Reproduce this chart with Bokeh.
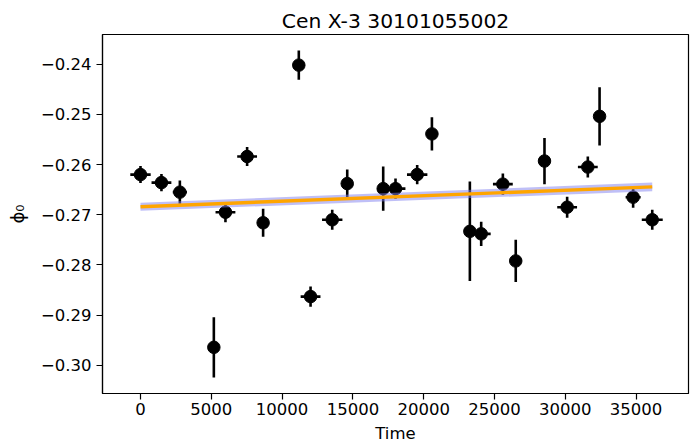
from bokeh.plotting import figure
from bokeh.models import FixedTicker, Range1d, ColumnDataSource
from bokeh.embed import file_html
from bokeh.resources import INLINE

# ---- data ----
time = [0, 1480, 2780, 5180, 6000, 7530, 8660, 11180, 12010, 13540, 14600, 17140,
        18010, 19540, 20580, 23260, 24060, 25590, 26500, 28530, 30130, 31590,
        32420, 34790, 36140]
phi0 = [-0.2620, -0.2636, -0.2655, -0.2964, -0.2695, -0.2584, -0.2716, -0.2402,
        -0.2863, -0.2710, -0.2638, -0.2648, -0.2648, -0.2620, -0.2539, -0.2733,
        -0.2738, -0.2639, -0.2792, -0.2593, -0.2685, -0.2605, -0.2504, -0.2665,
        -0.2710]
phi0_err = [0.0017, 0.0017, 0.0023, 0.0060, 0.0020, 0.0019, 0.0028, 0.0029,
            0.0020, 0.0020, 0.0028, 0.0044, 0.0020, 0.0019, 0.0033, 0.0099,
            0.0024, 0.0021, 0.0042, 0.0046, 0.0021, 0.0021, 0.0058, 0.0021,
            0.0020]
time_err = [720, 700, 500, 300, 700, 700, 300, 300, 700, 720, 300, 300,
            700, 720, 300, 300, 670, 700, 300, 300, 700, 700, 300, 530, 740]

fit_x = [0, 36140]
fit_y = [-0.2684, -0.26445]
fit_lo = [-0.2692, -0.2653]
fit_hi = [-0.2676, -0.2636]

x_ticks = [0, 5000, 10000, 15000, 20000, 25000, 30000, 35000]
y_ticks = [-0.30, -0.29, -0.28, -0.27, -0.26, -0.25, -0.24]
y_tick_labels = ["\u22120.30", "\u22120.29", "\u22120.28", "\u22120.27",
                 "\u22120.26", "\u22120.25", "\u22120.24"]

FONT = "DejaVu Sans"

src = ColumnDataSource(dict(
    x=time, y=phi0,
    x0=[t - e for t, e in zip(time, time_err)],
    x1=[t + e for t, e in zip(time, time_err)],
    y0=[v - e for v, e in zip(phi0, phi0_err)],
    y1=[v + e for v, e in zip(phi0, phi0_err)],
))

p = figure(width=697, height=447, output_backend="svg", toolbar_location=None,
           x_range=Range1d(-2683, 38700), y_range=Range1d(-0.3056, -0.2341),
           min_border_left=102, min_border_right=9, min_border_top=34,
           min_border_bottom=54)

p.title.text = "Cen X-3 30101055002"
p.title.align = "center"
p.title.vertical_align = "top"
p.title.text_font = FONT
p.title.text_font_size = "20.3px"
p.title.text_font_style = "normal"
p.title.text_color = "black"
p.title.standoff = 0

p.grid.visible = False
p.outline_line_color = "black"
p.outline_line_width = 1.2
p.background_fill_color = "white"
p.border_fill_color = "white"

for ax in (p.xaxis[0], p.yaxis[0]):
    ax.major_label_text_font = FONT
    ax.major_label_text_font_size = "16.5px"
    ax.major_label_text_color = "black"
    ax.axis_label_text_font = FONT
    ax.axis_label_text_font_size = "16.5px"
    ax.axis_label_text_font_style = "normal"
    ax.axis_label_text_color = "black"
    ax.major_tick_out = 6
    ax.major_tick_in = 0
    ax.minor_tick_out = 0
    ax.minor_tick_in = 0
    ax.major_tick_line_color = "black"
    ax.major_tick_line_width = 1.2
    ax.axis_line_color = "black"
    ax.axis_line_width = 1.2

p.xaxis.ticker = FixedTicker(ticks=x_ticks)
p.xaxis.major_label_overrides = {t: str(t) for t in x_ticks}
p.xaxis.axis_label = "Time"
p.xaxis.major_label_standoff = 3
p.xaxis.axis_label_standoff = 6

p.yaxis.ticker = FixedTicker(ticks=y_ticks)
p.yaxis.major_label_overrides = dict(zip(y_ticks, y_tick_labels))
p.yaxis.axis_label = "\u03d5\u2080"
p.yaxis.axis_label_text_font_size = "18px"
p.yaxis.major_label_standoff = 5
p.yaxis.axis_label_standoff = 10

# error bars
p.segment(x0="x0", y0="y", x1="x1", y1="y", source=src, line_color="black", line_width=2.6)
p.segment(x0="x", y0="y0", x1="x", y1="y1", source=src, line_color="black", line_width=2.6)
p.scatter(x="x", y="y", source=src, size=12.5, marker="circle",
          fill_color="black", line_color="black")

# fit with band
p.varea(x=fit_x, y1=fit_lo, y2=fit_hi, fill_color="#8080f0", fill_alpha=0.5)
p.line(x=fit_x, y=fit_y, line_color="#ffa500", line_width=3.4)

open("out.html", "w").write(file_html(p, INLINE))
